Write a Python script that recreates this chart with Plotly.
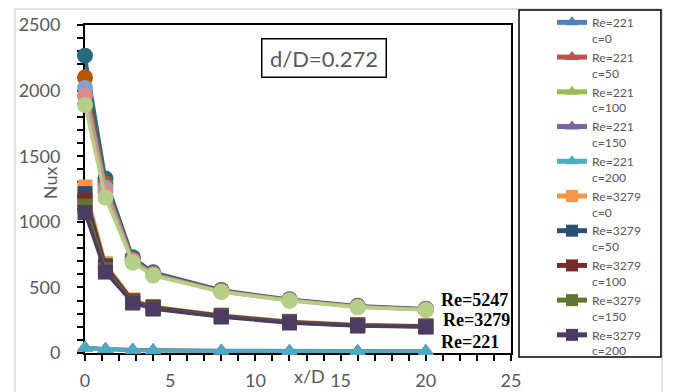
import plotly.graph_objects as go

# Axial position along the wall (x/D)
x_d = [0, 1.2, 2.8, 4, 8, 12, 16, 20]
c_values = [0, 50, 100, 150, 200]

# Local Nusselt number, one row per c value
nu_re221 = [
    [42, 31, 25, 22, 19, 17, 16, 15],
    [41, 30, 24, 21, 18, 16, 15, 14],
    [40, 29, 23, 20, 17, 15, 14, 13],
    [39, 28, 22, 19, 16, 14, 13, 12],
    [38, 27, 21, 18, 15, 13, 12, 11],
]
nu_re3279 = [
    [1265, 680, 405, 355, 290, 242, 218, 208],
    [1215, 665, 398, 350, 285, 238, 214, 205],
    [1165, 650, 392, 345, 281, 235, 211, 202],
    [1120, 635, 387, 340, 278, 232, 208, 200],
    [1070, 617, 381, 335, 274, 229, 206, 198],
]
nu_re5247 = [
    [2266, 1330, 730, 615, 480, 410, 360, 338],
    [2100, 1290, 715, 605, 475, 405, 356, 334],
    [2020, 1260, 705, 600, 470, 402, 353, 331],
    [1960, 1230, 698, 595, 467, 400, 350, 329],
    [1890, 1185, 688, 590, 465, 398, 348, 327],
]

colors_re221 = ["#4F81BD", "#C0504D", "#9BBB59", "#8064A2", "#4BACC6"]
colors_re3279 = ["#F79646", "#2C4D75", "#772C2A", "#5F7530", "#4D3B62"]
colors_re5247 = ["#276A7C", "#B65708", "#7EA2D4", "#D98C8A", "#B5CF87"]

# Curve labels: (text, x, y, xshift)
re_labels = [("Re=5247", 25.0, 404, -1), ("Re=3279", 25.0, 251, 1), ("Re=221", 24.4, 84, 0)]

GRAY = "#595959"
SANS = "Lato, 'Liberation Sans', Arial, sans-serif"

fig = go.Figure()

for c, ys, col in zip(c_values, nu_re221, colors_re221):
    fig.add_trace(go.Scatter(
        x=x_d, y=ys, mode="lines+markers", name=f"Re=221<br>c={c}",
        line=dict(color=col, width=3.5),
        marker=dict(symbol="triangle-up", size=14, color=col),
        cliponaxis=False,
    ))

for c, ys, col in zip(c_values, nu_re3279, colors_re3279):
    fig.add_trace(go.Scatter(
        x=x_d, y=ys, mode="lines+markers", name=f"Re=3279<br>c={c}",
        line=dict(color=col, width=3.5),
        marker=dict(symbol="square", size=15, color=col),
        cliponaxis=False,
    ))

for c, ys, col in zip(c_values, nu_re5247, colors_re5247):
    fig.add_trace(go.Scatter(
        x=x_d, y=ys, mode="lines+markers", name=f"Re=5247<br>c={c}",
        line=dict(color=col, width=3.5),
        marker=dict(symbol="circle", size=16, color=col),
        cliponaxis=False, showlegend=False,
    ))

annotations = [
    dict(text=f"<b>{t}</b>", x=x, y=y, xref="x", yref="y", xanchor="right",
         yanchor="middle", xshift=dx, showarrow=False,
         font=dict(family="'Liberation Serif', 'Times New Roman', serif", size=18, color="black"))
    for t, x, y, dx in re_labels
]
annotations += [
    dict(text="d/D=0.272", x=0.561, y=0.899, xref="paper", yref="paper",
         xanchor="center", yanchor="middle",
         showarrow=False, width=119, height=33, borderpad=2,
         bordercolor="black", borderwidth=1.5,
         font=dict(family=SANS, size=22, color=GRAY)),
    dict(text="Nux", x=-0.082, y=0.518, xref="paper", yref="paper",
         xanchor="center", yanchor="middle",
         showarrow=False, textangle=-90,
         font=dict(family=SANS, size=18, color=GRAY)),
    dict(text="x/D", x=0.526, y=-0.070, xref="paper", yref="paper",
         xanchor="center", yanchor="middle",
         showarrow=False, font=dict(family=SANS, size=18, color=GRAY)),
]

shapes = [
    # outer chart frame
    dict(type="rect", xref="paper", yref="paper", x0=-0.1643, x1=1.3545,
         y0=-0.2, y1=1.0488, line=dict(color="#D9D9D9", width=1.5), layer="below"),
    # legend frame
    dict(type="rect", xref="paper", yref="paper", x0=1.0188, x1=1.352,
         y0=-0.0122, y1=1.0457, line=dict(color="black", width=1.5), layer="below"),
]

fig.update_layout(
    width=678, height=392, autosize=False,
    margin=dict(l=85, r=167, t=25, b=39, autoexpand=False),
    paper_bgcolor="white", plot_bgcolor="white",
    font=dict(family=SANS, color=GRAY),
    annotations=annotations, shapes=shapes,
    showlegend=True,
    legend=dict(
        x=1.0962, y=1.052, xanchor="left", yanchor="top",
        bgcolor="rgba(0,0,0,0)", borderwidth=0,
        font=dict(family=SANS, size=12.2, color=GRAY),
        valign="top", itemsizing="constant", tracegroupgap=0,
        maxheight=390,
    ),
)

fig.update_xaxes(
    range=[0, 25], dtick=5, tick0=0, showgrid=False, zeroline=False,
    showline=True, linecolor="black", linewidth=2, mirror=True,
    ticks="outside", ticklen=6, tickwidth=1.5, tickcolor="black",
    minor=dict(dtick=1, ticks="outside", ticklen=6, tickwidth=1.5, tickcolor="black"),
    tickfont=dict(family=SANS, size=18, color=GRAY), ticklabelstandoff=4,
    layer="below traces", automargin=False,
)
fig.update_yaxes(
    range=[0, 2500], dtick=500, tick0=0, showgrid=False, zeroline=False,
    showline=True, linecolor="black", linewidth=2, mirror=True,
    ticks="outside", ticklen=6, tickwidth=1.5, tickcolor="black",
    minor=dict(dtick=100, ticks="outside", ticklen=6, tickwidth=1.5, tickcolor="black"),
    tickfont=dict(family=SANS, size=18, color=GRAY), ticklabelstandoff=13,
    layer="below traces", automargin=False,
)

fig.write_html("out.html")
